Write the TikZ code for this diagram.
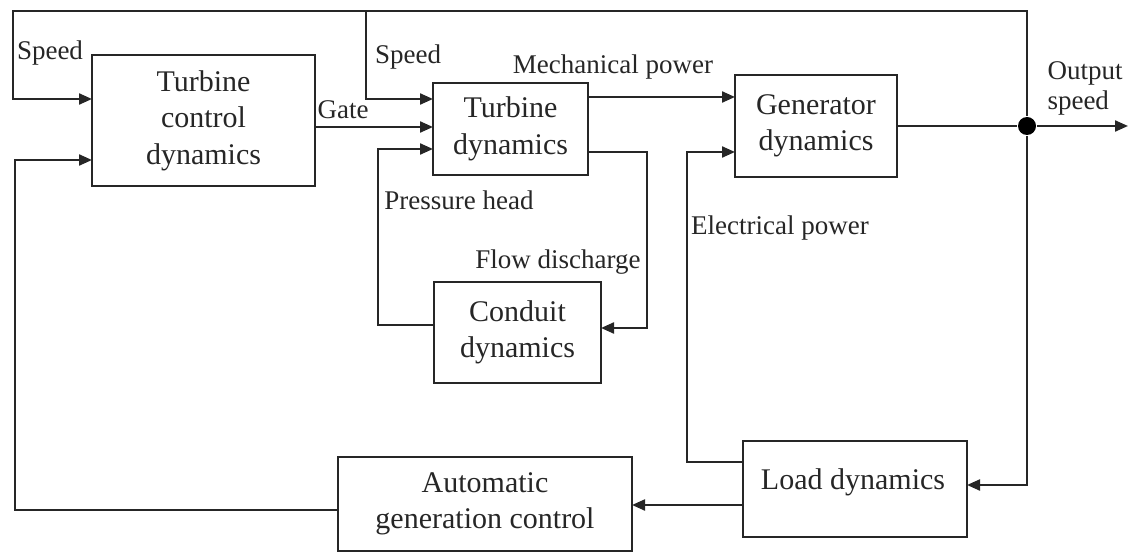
\documentclass[tikz,border=0pt]{standalone}
\usepackage{fontspec}
\setmainfont{Liberation Serif}
\usetikzlibrary{arrows.meta}
\begin{document}
\begin{tikzpicture}[x=1pt,y=-1pt,
  line width=2.2pt, draw=black!85,
  box/.style={draw=black!85, rectangle, inner sep=0pt, outer sep=0pt, align=center,
    font=\fontsize{30}{36.5}\selectfont, text=black!85},
  lbl/.style={inner sep=0pt, font=\fontsize{27}{30}\selectfont, text=black!85},
  arr/.style={-{Triangle[length=13pt,width=11pt]}}
]
\useasboundingbox (0,0) rectangle (1129,553);

% blocks
\node[box, minimum width=223pt, minimum height=131pt] (tcd) at (203.5,120.5) {Turbine\\control\\dynamics};
\node[box, minimum width=155pt, minimum height=92pt] (td) at (510.5,129) {Turbine\\dynamics};
\node[box, minimum width=162pt, minimum height=102pt] (gen) at (816,126) {Generator\\dynamics};
\node[box, minimum width=167pt, minimum height=101pt] (cond) at (517.5,332.5) {Conduit\\dynamics};
\node[box, minimum width=224pt, minimum height=96pt] (load) at (855,489) {};
\node[box, draw=none] (loadt) at (853,482) {Load dynamics};
\node[box, minimum width=294pt, minimum height=94pt] (agc) at (485,504) {Automatic\\generation control};

% junction dot
\node[circle, fill=black, minimum size=18pt, inner sep=0pt] (dot) at (1027,126) {};

% helper coordinates
\coordinate (tr) at (1027,11);
\coordinate (tl) at (13,11);
\coordinate (sp2) at (366,11);
\coordinate (flowc) at (647,240);
\coordinate (phc) at (378,240);
\coordinate (epc) at (687,300);
\coordinate (fbc) at (15,300);
\coordinate (out) at (1128,126);

% connectors
\draw[arr] (dot) -- (tr) -- (tl) |- ([yshift=21.5pt]tcd.west);
\draw[arr] (sp2) |- ([yshift=30pt]td.west);
\draw[arr] ([yshift=-6.5pt]tcd.east) -- ([yshift=2pt]td.west);
\draw[arr] ([yshift=32pt]td.east) -- ([yshift=29pt]gen.west);
\draw[arr] ([yshift=-23pt]td.east) -| (flowc) |- ([yshift=4.5pt]cond.east);
\draw[arr] ([yshift=7.5pt]cond.west) -| (phc) |- ([yshift=-20pt]td.west);
\draw (gen.east) -- (dot);
\draw[arr] (dot) -- (out);
\draw[arr] (dot) |- ([yshift=4pt]load.east);
\draw[arr] ([yshift=27pt]load.west) -| (epc) |- ([yshift=-26pt]gen.west);
\draw[arr] ([yshift=-16pt]load.west) -- ([yshift=-1pt]agc.east);
\draw[arr] ([yshift=-6pt]agc.west) -| (fbc) |- ([yshift=-39.5pt]tcd.west);

% labels
\node[lbl] (l1) at (50,53) {Speed};
\node[lbl] (l2) at (408,57) {Speed};
\node[lbl] (l3) at (343,110) {Gate};
\node[lbl] (l4) at (613,67) {Mechanical power};
\node[lbl] (l5) at (459,200) {Pressure head};
\node[lbl] (l6) at (558,262) {Flow discharge};
\node[lbl] (l7) at (780,228) {Electrical power};
\node[lbl, align=left] (l8) at (1085,88) {Output\\speed};
\end{tikzpicture}
\end{document}
